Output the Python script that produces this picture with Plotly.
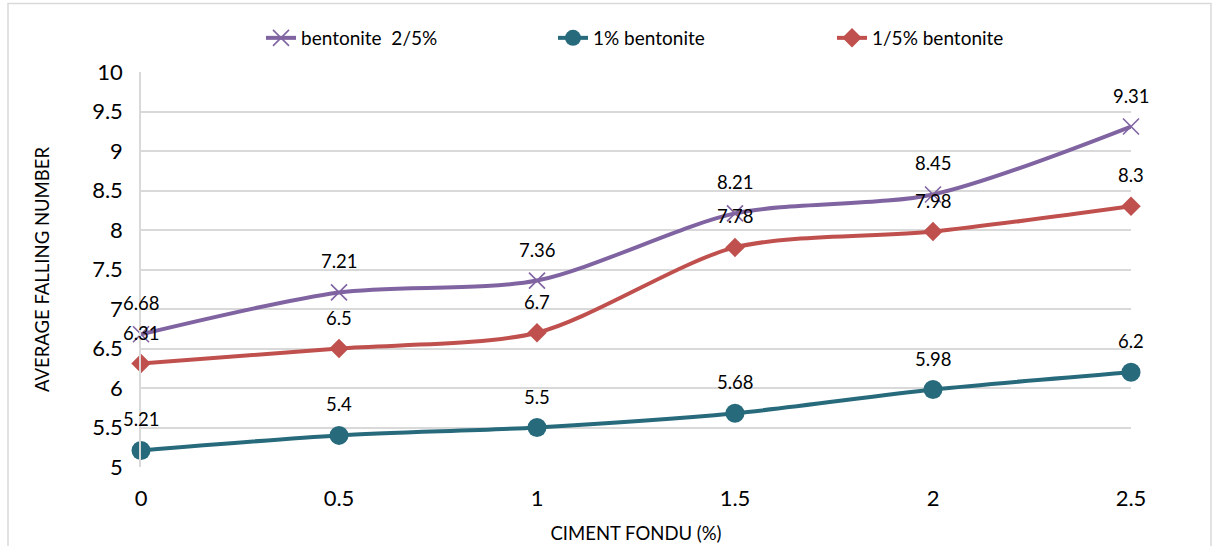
import plotly.graph_objects as go

x_vals = [0, 0.5, 1, 1.5, 2, 2.5]
bent_25 = [6.68, 7.21, 7.36, 8.21, 8.45, 9.31]
bent_1 = [5.21, 5.4, 5.5, 5.68, 5.98, 6.2]
bent_15 = [6.31, 6.5, 6.7, 7.78, 7.98, 8.3]
names = ["bentonite  2/5%", "1% bentonite", "1/5% bentonite"]
y_ticks = [5, 5.5, 6, 6.5, 7, 7.5, 8, 8.5, 9, 9.5, 10]
x_ticks = [0, 0.5, 1, 1.5, 2, 2.5]

FONT = "Lato"
L, R, T, B = 141, 83, 72, 79
W, H = 1214, 546
PW, PH = W - L - R, H - T - B

def px2x(p):
    return (p - L) / PW

def py2y(p):
    return (H - B - p) / PH

fig = go.Figure()
series = [
    (bent_25, names[0], "#8064A2", dict(symbol="x-thin-open", size=16, line=dict(width=1.6, color="#8064A2")), "legend"),
    (bent_1, names[1], "#276A7C", dict(symbol="circle", size=19), "legend2"),
    (bent_15, names[2], "#C0504D", dict(symbol="diamond", size=15), "legend3"),
]
for ys, nm, col, mk, lg in series:
    fig.add_trace(go.Scatter(
        x=x_vals, y=ys, name=nm, mode="lines+markers", showlegend=True,
        line=dict(color=col, width=4, shape="spline", smoothing=0.8),
        marker=dict(color=col, **mk), cliponaxis=False, legend=lg,
    ))

for ys, nm, col, mk, lg in series:
    for xv, yv in zip(x_vals, ys):
        fig.add_annotation(x=xv, y=yv, text=str(yv), showarrow=False,
                           yshift=31, font=dict(family=FONT, size=18.5, color="#000000"))

# chart border
fig.add_shape(type="rect", xref="paper", yref="paper",
              x0=px2x(8), x1=px2x(1211), y0=py2y(560), y1=py2y(3.5),
              line=dict(color="#D9D9D9", width=1.5), layer="below")

legend_common = dict(orientation="h", yanchor="middle", y=py2y(38), xanchor="left",
                     font=dict(family=FONT, size=19, color="#000000"),
                     bgcolor="rgba(0,0,0,0)", itemwidth=30, visible=True)
fig.update_layout(
    width=W, height=H,
    margin=dict(l=L, r=R, t=T, b=B, autoexpand=False),
    showlegend=True,
    paper_bgcolor="white", plot_bgcolor="white",
    font=dict(family=FONT, color="#000000"),
    legend=dict(x=px2x(261), **legend_common),
    legend2=dict(x=px2x(553), **legend_common),
    legend3=dict(x=px2x(832), **legend_common),
    xaxis=dict(range=[0, 2.5], tickvals=x_ticks, ticktext=[str(v) for v in x_ticks],
               showgrid=False, zeroline=False, showline=False, ticks="",
               ticklabelstandoff=16, automargin=False,
               tickfont=dict(family=FONT, size=22, color="#000000"),
               title=dict(text="CIMENT FONDU (%)", font=dict(family=FONT, size=18.5, color="#000000"),
                          standoff=17)),
    yaxis=dict(range=[5, 10], tickvals=y_ticks, ticktext=[str(v) if v != int(v) else str(int(v)) for v in y_ticks],
               showgrid=True, gridcolor="#D9D9D9", gridwidth=1.5, zeroline=False,
               showline=True, linecolor="#D9D9D9", linewidth=1.5, ticks="",
               ticklabelstandoff=12, automargin=False,
               tickfont=dict(family=FONT, size=22, color="#000000"),
               title=dict(text="AVERAGE FALLING NUMBER", font=dict(family=FONT, size=18.5, color="#000000"),
                          standoff=38)),
)

fig.write_html("out.html", config={"displayModeBar": False},
               post_script="document.body.style.margin='0';document.body.style.overflow='hidden';")
